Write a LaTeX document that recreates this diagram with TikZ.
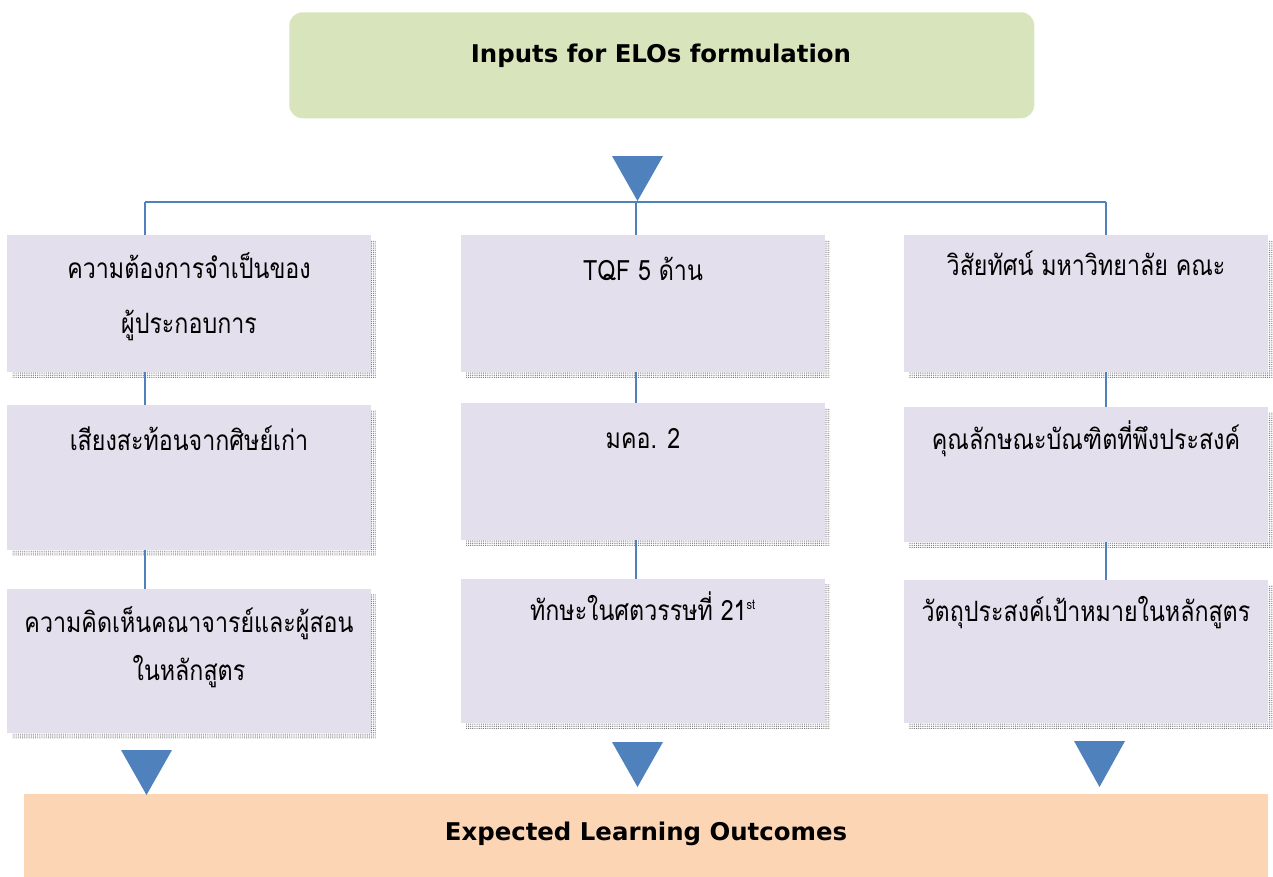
\documentclass[tikz,border=0pt]{standalone}
\usepackage{fontspec}
\usetikzlibrary{patterns.meta}
\setmainfont{DejaVu Sans}
\newfontfamily\thaif[Script=Thai,FakeStretch=0.83]{Loma}
\newfontfamily\headf{DejaVu Sans}
\definecolor{blu}{HTML}{4F81BD}
\definecolor{lavbox}{HTML}{E4DFEC}
\definecolor{greenbox}{HTML}{D8E4BC}
\definecolor{peachbox}{HTML}{FCD5B4}
\newcommand\lavbox[5]{%
  \fill[shad] (#2+5,#3+5) rectangle (#4+5,#5+5);
  \node[lav, minimum width={(#4-#2)*0.75pt}, minimum height={(#5-#3)*0.75pt}] (#1) at (#2,#3) {};}
\tikzset{
  lav/.style={fill=lavbox, draw=none, inner sep=0pt, outer sep=0pt, anchor=north west},
  shad/.style={draw=none, pattern={Dots[distance=1.4pt, radius=0.4pt]}, pattern color=gray!80!black},
  conn/.style={draw=blu, line width=1.5pt},
  tri/.style={fill=blu, draw=none},
  thaitxt/.style={font=\thaif\fontsize{21}{25}\selectfont, inner sep=0pt, anchor=base},
  head/.style={font=\headf\bfseries\fontsize{18.3}{22}\selectfont, inner sep=0pt, anchor=base}
}
\begin{document}
\begin{tikzpicture}[x=0.75pt,y=-0.75pt]
\useasboundingbox (0,0) rectangle (1273,876);
% top box
\node[fill=greenbox, rounded corners=10pt, inner sep=0pt, anchor=north west,
      minimum width={745*0.75pt}, minimum height={106*0.75pt}] (top) at (289,12) {};
\node[head] (toptxt) at (661,62) {Inputs for ELOs formulation};
% bottom box
\node[fill=peachbox, inner sep=0pt, anchor=north west,
      minimum width={1244*0.75pt}, minimum height={84*0.75pt}] (bot) at (24,794) {};
\node[head] (bottxt) at (646,840) {Expected Learning Outcomes};
% connector coordinates
\coordinate (hl) at (145,202);
\coordinate (hm) at (636,202);
\coordinate (hr) at (1106,202);
% top triangle
\fill[tri] (612,156) -- (663,156) -- (637.5,201) -- cycle;
% horizontal bar
\draw[conn] (hl) -- (hr);
% boxes
\lavbox{a1}{7}{235}{371}{372}
\lavbox{a2}{7}{405}{371}{550}
\lavbox{a3}{7}{589}{371}{733}
\lavbox{b1}{461}{235}{825}{372}
\lavbox{b2}{461}{403}{825}{540}
\lavbox{b3}{461}{579}{825}{723}
\lavbox{c1}{904}{235}{1268}{372}
\lavbox{c2}{904}{407}{1268}{542}
\lavbox{c3}{904}{580}{1268}{723}
% vertical connectors
\draw[conn] (hl) -- (hl |- a1.north);
\draw[conn] (a1.south -| hl) -- (a2.north -| hl);
\draw[conn] (a2.south -| hl) -- (a3.north -| hl);
\draw[conn] (hm) -- (hm |- b1.north);
\draw[conn] (b1.south -| hm) -- (b2.north -| hm);
\draw[conn] (b2.south -| hm) -- (b3.north -| hm);
\draw[conn] (hr) -- (hr |- c1.north);
\draw[conn] (c1.south -| hr) -- (c2.north -| hr);
\draw[conn] (c2.south -| hr) -- (c3.north -| hr);
% bottom triangles
\fill[tri] (121,750) -- (172,750) -- (146.5,795) -- cycle;
\fill[tri] (612,742) -- (663,742) -- (637.5,787) -- cycle;
\fill[tri] (1074,741) -- (1125,741) -- (1099.5,787) -- cycle;
% texts
\node[thaitxt] (ta1a) at (189,278) {ความต้องการจำเป็นของ};
\node[thaitxt] (ta1b) at (189,333) {ผู้ประกอบการ};
\node[thaitxt] (ta2) at (189,450) {เสียงสะท้อนจากศิษย์เก่า};
\node[thaitxt] (ta3a) at (189,632) {ความคิดเห็นคณาจารย์และผู้สอน};
\node[thaitxt] (ta3b) at (189,680) {ในหลักสูตร};
\node[thaitxt] (tb1) at (643,280) {TQF 5 ด้าน};
\node[thaitxt] (tb2) at (643,448) {มคอ. 2};
\node[thaitxt] (tb3) at (643,620) {ทักษะในศตวรรษที่ 21\textsuperscript{\fontsize{10}{11}\selectfont st}};
\node[thaitxt] (tc1) at (1086,275) {วิสัยทัศน์ มหาวิทยาลัย คณะ};
\node[thaitxt] (tc2) at (1086,449) {คุณลักษณะบัณฑิตที่พึงประสงค์};
\node[thaitxt] (tc3) at (1086,621) {วัตถุประสงค์เป้าหมายในหลักสูตร};
\end{tikzpicture}
\end{document}
